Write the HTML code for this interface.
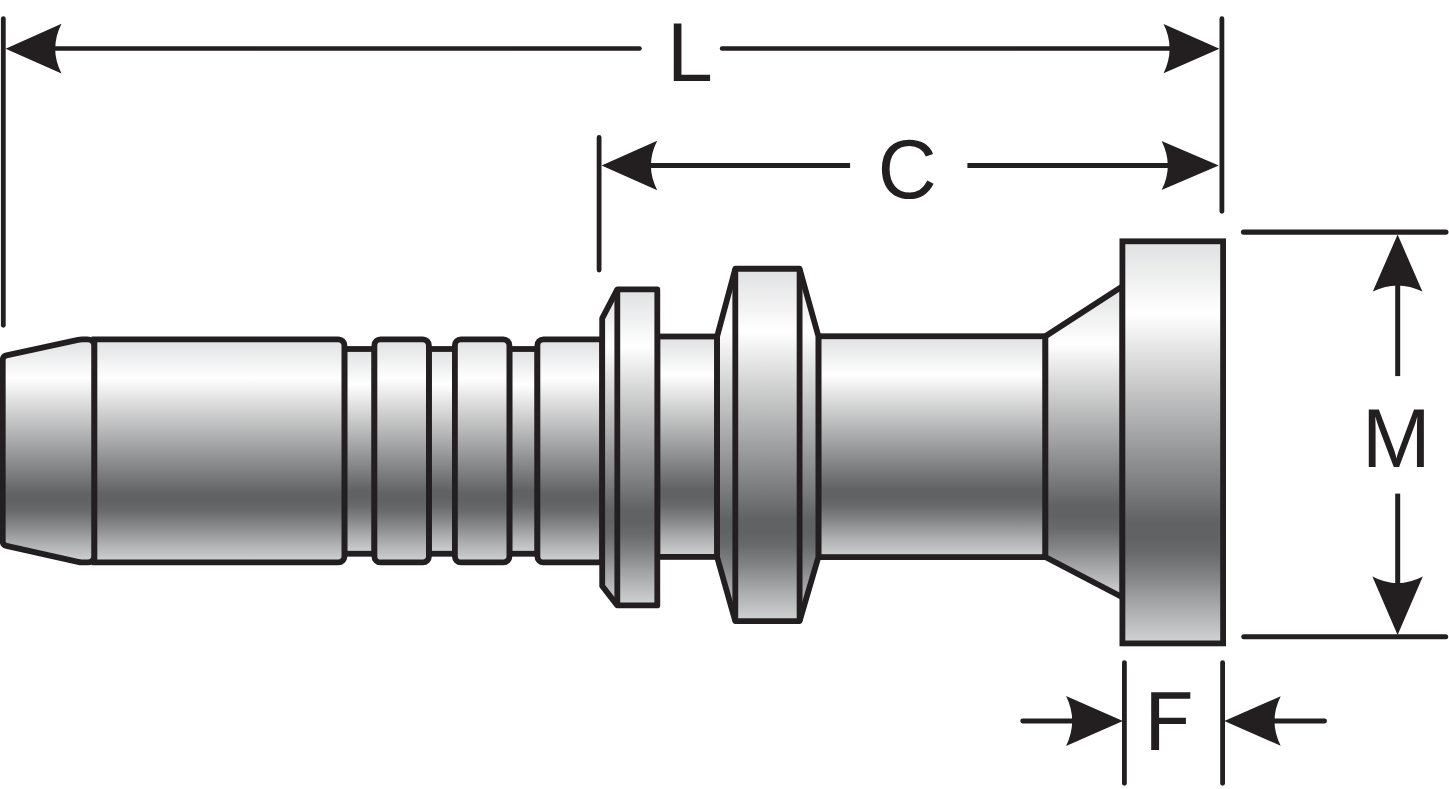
<!DOCTYPE html>
<html lang="en">
<head>
<meta charset="utf-8">
<title>Hose fitting dimension diagram</title>
<style>
html,body{margin:0;padding:0;background:#ffffff;}
body{width:1449px;height:789px;overflow:hidden;font-family:"Liberation Sans",sans-serif;}
svg{display:block;}
svg text{font-family:"Liberation Sans",sans-serif;font-size:84.16px;fill:#231f20;}
</style>
</head>
<body>
<svg width="1449" height="789" viewBox="0 0 1449 789">
<defs>
<linearGradient id="g" x1="0" y1="0" x2="0" y2="1"><stop offset="0" stop-color="#dfe0e1"/><stop offset="0.174" stop-color="#ffffff"/><stop offset="0.691" stop-color="#616264"/><stop offset="0.727" stop-color="#616264"/><stop offset="0.769" stop-color="#696a6c"/><stop offset="0.834" stop-color="#858688"/><stop offset="0.899" stop-color="#a6a7a9"/><stop offset="1" stop-color="#d1d3d4"/></linearGradient>
<linearGradient id="gB" x1="0" y1="0" x2="0" y2="1"><stop offset="0" stop-color="#dfe0e1"/><stop offset="0.178" stop-color="#ffffff"/><stop offset="0.713" stop-color="#616264"/><stop offset="0.748" stop-color="#616264"/><stop offset="0.786" stop-color="#696a6c"/><stop offset="0.847" stop-color="#858688"/><stop offset="0.907" stop-color="#a6a7a9"/><stop offset="1" stop-color="#d1d3d4"/></linearGradient>
<linearGradient id="gC" x1="0" y1="0" x2="0" y2="1"><stop offset="0" stop-color="#dfe0e1"/><stop offset="0.18" stop-color="#ffffff"/><stop offset="0.699" stop-color="#616264"/><stop offset="0.735" stop-color="#616264"/><stop offset="0.775" stop-color="#696a6c"/><stop offset="0.839" stop-color="#858688"/><stop offset="0.902" stop-color="#a6a7a9"/><stop offset="1" stop-color="#d1d3d4"/></linearGradient>
<linearGradient id="gD" x1="0" y1="0" x2="0" y2="1"><stop offset="0" stop-color="#dfe0e1"/><stop offset="0.184" stop-color="#ffffff"/><stop offset="0.705" stop-color="#616264"/><stop offset="0.740" stop-color="#616264"/><stop offset="0.780" stop-color="#696a6c"/><stop offset="0.842" stop-color="#858688"/><stop offset="0.904" stop-color="#a6a7a9"/><stop offset="1" stop-color="#d1d3d4"/></linearGradient>
</defs>
<rect x="0" y="0" width="1449" height="789" fill="#ffffff"/>
<g stroke="#231f20" stroke-width="5.8" stroke-linejoin="miter" stroke-miterlimit="10">
<rect x="344.40" y="349.00" width="30.00" height="204.75" fill="url(#g)"/>
<rect x="428.90" y="349.00" width="26.00" height="204.75" fill="url(#g)"/>
<rect x="509.40" y="349.00" width="28.00" height="204.75" fill="url(#g)"/>
<path d="M87.9,339.4 L82,339.4 Q80,339.4 78,339.85 L6.5,355.4 Q2.75,356.3 2.75,360 L2.75,541.5 Q2.75,545 6.5,545.9 L78,561.95 Q80,562.4 82,562.4 L87.9,562.4 A6.5,6.5 0 0 0 94.4,555.9 L94.4,345.9 A6.5,6.5 0 0 0 87.9,339.4 Z" fill="url(#g)"/>
<path d="M94.40,339.40 L338.40,339.40 A6,6 0 0 1 344.40,345.40 L344.40,556.40 A6,6 0 0 1 338.40,562.40 L94.40,562.40 L94.40,339.40 Z" fill="url(#g)"/>
<path d="M380.40,339.40 L422.90,339.40 A6,6 0 0 1 428.90,345.40 L428.90,556.40 A6,6 0 0 1 422.90,562.40 L380.40,562.40 A6,6 0 0 1 374.40,556.40 L374.40,345.40 A6,6 0 0 1 380.40,339.40 Z" fill="url(#g)"/>
<path d="M460.90,339.40 L503.40,339.40 A6,6 0 0 1 509.40,345.40 L509.40,556.40 A6,6 0 0 1 503.40,562.40 L460.90,562.40 A6,6 0 0 1 454.90,556.40 L454.90,345.40 A6,6 0 0 1 460.90,339.40 Z" fill="url(#g)"/>
<path d="M543.40,339.40 L602.20,339.40 L602.20,562.40 L543.40,562.40 A6,6 0 0 1 537.40,556.40 L537.40,345.40 A6,6 0 0 1 543.40,339.40 Z" fill="url(#g)"/>
<rect x="657.30" y="336.50" width="59.80" height="220.40" fill="url(#g)"/>
<rect x="818.40" y="336.25" width="227.00" height="220.85" fill="url(#g)"/>
<path d="M1045.40,336.25 L1122.40,286.30 L1122.40,597.20 L1045.40,557.10 Z" fill="url(#gD)" />
<path d="M602.20,318.30 L617.30,289.40 L657.30,289.40 L657.30,605.40 L617.30,605.40 L602.20,586.00 Z" fill="url(#gC)" stroke-linejoin="round"/>
<line x1="617.3" y1="289.4" x2="617.3" y2="605.4" stroke-linecap="butt"/>
<path d="M717.10,336.50 L735.30,268.75 L799.60,268.75 L818.40,336.25 L818.40,557.00 L799.60,621.10 L735.30,621.10 L717.10,557.00 Z" fill="url(#gB)" stroke-linejoin="round"/>
<line x1="735.3" y1="268.75" x2="735.3" y2="621.1" stroke-linecap="butt"/>
<line x1="799.6" y1="268.75" x2="799.6" y2="621.1" stroke-linecap="butt"/>
<rect x="1122.40" y="241.30" width="100.70" height="402.10" fill="url(#gC)"/>
</g>
<g stroke="#231f20" fill="none">
<line x1="3.30" y1="18.70" x2="3.30" y2="325.30" stroke-linecap="round" stroke-width="4.8"/>
<line x1="1221.90" y1="18.70" x2="1221.90" y2="211.35" stroke-linecap="round" stroke-width="4.8"/>
<line x1="50.00" y1="48.60" x2="639.55" y2="48.60" stroke-linecap="round" stroke-width="4.5"/>
<line x1="722.05" y1="48.60" x2="1175.00" y2="48.60" stroke-linecap="round" stroke-width="4.5"/>
<line x1="599.10" y1="137.50" x2="599.10" y2="270.10" stroke-linecap="round" stroke-width="4.8"/>
<line x1="645.00" y1="165.50" x2="850.10" y2="165.50" stroke-linecap="butt" stroke-width="5.0"/>
<line x1="967.40" y1="165.50" x2="1172.00" y2="165.50" stroke-linecap="butt" stroke-width="5.0"/>
<line x1="1243.55" y1="232.10" x2="1445.85" y2="232.10" stroke-linecap="round" stroke-width="5.3"/>
<line x1="1243.80" y1="636.80" x2="1445.70" y2="636.80" stroke-linecap="round" stroke-width="5.0"/>
<line x1="1397.70" y1="280.00" x2="1397.70" y2="376.10" stroke-linecap="butt" stroke-width="5.0"/>
<line x1="1397.70" y1="493.60" x2="1397.70" y2="588.00" stroke-linecap="butt" stroke-width="5.0"/>
<line x1="1124.40" y1="662.60" x2="1124.40" y2="783.30" stroke-linecap="round" stroke-width="4.8"/>
<line x1="1222.60" y1="662.60" x2="1222.60" y2="783.30" stroke-linecap="round" stroke-width="4.8"/>
<line x1="1022.70" y1="721.00" x2="1076.00" y2="721.00" stroke-linecap="round" stroke-width="4.8"/>
<line x1="1270.00" y1="721.00" x2="1324.60" y2="721.00" stroke-linecap="round" stroke-width="4.8"/>
</g>
<g>
<path d="M5.60,48.70 L61.50,23.80 Q48.90,48.70 61.50,73.60 Z" fill="#231f20" stroke="none"/>
<path d="M1219.40,48.70 L1163.60,24.10 Q1175.60,48.70 1163.60,73.30 Z" fill="#231f20" stroke="none"/>
<path d="M601.60,165.50 L657.20,140.80 Q644.60,165.50 657.20,190.20 Z" fill="#231f20" stroke="none"/>
<path d="M1218.80,165.50 L1161.60,140.90 Q1174.00,165.50 1161.60,190.10 Z" fill="#231f20" stroke="none"/>
<path d="M1397.60,234.60 L1372.80,291.60 Q1397.60,279.60 1422.40,291.60 Z" fill="#231f20" stroke="none"/>
<path d="M1397.60,635.00 L1372.40,576.60 Q1397.60,589.80 1422.80,576.60 Z" fill="#231f20" stroke="none"/>
<path d="M1122.90,721.00 L1066.10,696.10 Q1078.30,721.00 1066.10,745.90 Z" fill="#231f20" stroke="none"/>
<path d="M1224.30,721.00 L1280.70,696.20 Q1268.30,721.00 1280.70,745.80 Z" fill="#231f20" stroke="none"/>
</g>
<g>
<text transform="translate(666.89,80.90) scale(0.9796,1)">L</text>
<text transform="translate(877.75,197.98) scale(0.9700,1)">C</text>
<text transform="translate(1361.99,467.40) scale(0.9796,1)">M</text>
<path d="M1151.2,692.3 H1190.3 V698.8 H1159.1 V717.8 H1185.9 V724.1 H1159.1 V750.1 H1151.2 Z" fill="#231f20"/>
</g>
</svg>
</body>
</html>
